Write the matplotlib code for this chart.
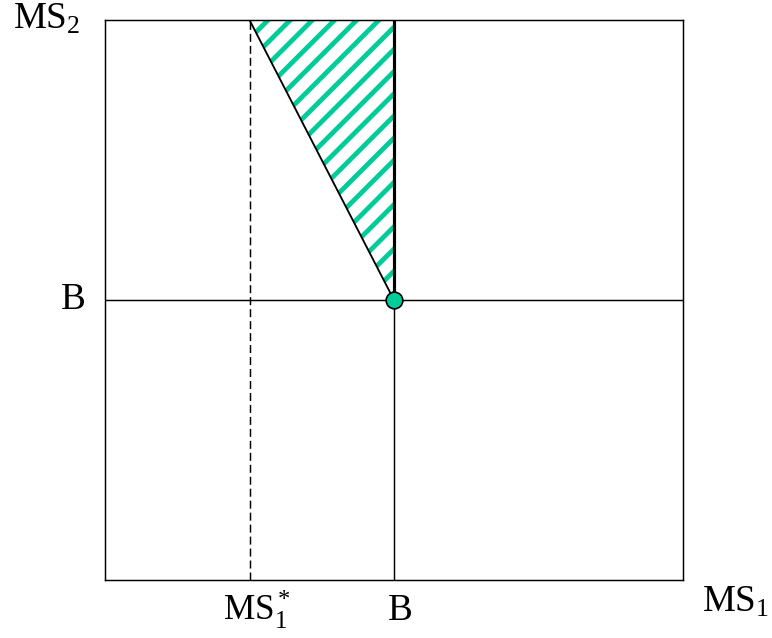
import matplotlib
matplotlib.use("Agg")
import matplotlib.pyplot as plt
from matplotlib import font_manager
from matplotlib.patches import Polygon

font_names = {f.name for f in font_manager.fontManager.ttflist}
serif = 'Liberation Serif' if 'Liberation Serif' in font_names else 'DejaVu Serif'

plt.rcParams['font.family'] = [serif, 'DejaVu Serif']
plt.rcParams['mathtext.fontset'] = 'custom'
plt.rcParams['mathtext.rm'] = serif
plt.rcParams['mathtext.it'] = serif + ':italic'
plt.rcParams['hatch.linewidth'] = 2.6

# values (in units of the axis range)
ms_max = 2.0        # right / top edge of the box
b_level = 1.0       # B on both axes
ms1_star = 0.5      # MS1* (dashed line)
green = '#00CC99'

DPI = 133
W, H = 772, 638
fig = plt.figure(figsize=(W / DPI, H / DPI), dpi=DPI)
ax = fig.add_axes([105 / W, 1 - 580 / H, (683 - 105) / W, (580 - 20) / H])
ax.set_xlim(0, ms_max)
ax.set_ylim(0, ms_max)
ax.set_xticks([])
ax.set_yticks([])
for sp in ax.spines.values():
    sp.set_linewidth(0.8)

# shaded triangle
tri = Polygon([(ms1_star, ms_max), (b_level, ms_max), (b_level, b_level)],
              closed=True, facecolor='white', edgecolor=green, hatch='//',
              linewidth=0, zorder=1)
ax.add_patch(tri)

# guide lines
ax.axhline(b_level, color='black', lw=0.8, zorder=2)
ax.axvline(b_level, color='black', lw=0.8, zorder=2)
dash, = ax.plot([ms1_star, ms1_star], [0, ms_max], color='black', lw=0.8, zorder=2)
dash.set_dashes((5.4, 2.7))

# triangle edges
ax.plot([ms1_star, b_level], [ms_max, b_level], color='black', lw=1.0, zorder=3)
ax.plot([b_level, b_level], [b_level, ms_max], color='black', lw=1.7, zorder=3)

ax.plot([b_level], [b_level], 'o', ms=9, mfc=green, mec='black', mew=0.9,
        zorder=4, clip_on=False)

fs = 20
fig.text(13 / W, 1 - 29 / H, r'$\mathrm{MS}_2$', fontsize=fs, ha='left', va='baseline')
fig.text(73 / W, 1 - 300 / H, 'B', fontsize=fs, ha='center', va='center')
fig.text(223 / W, 1 - 620 / H, r'$\mathrm{MS}_1^*$', fontsize=19, ha='left', va='baseline')
fig.text(400 / W, 1 - 620 / H, 'B', fontsize=fs, ha='center', va='baseline')
fig.text(702 / W, 1 - 612 / H, r'$\mathrm{MS}_1$', fontsize=fs, ha='left', va='baseline')

fig.savefig('out.png', dpi=DPI)
